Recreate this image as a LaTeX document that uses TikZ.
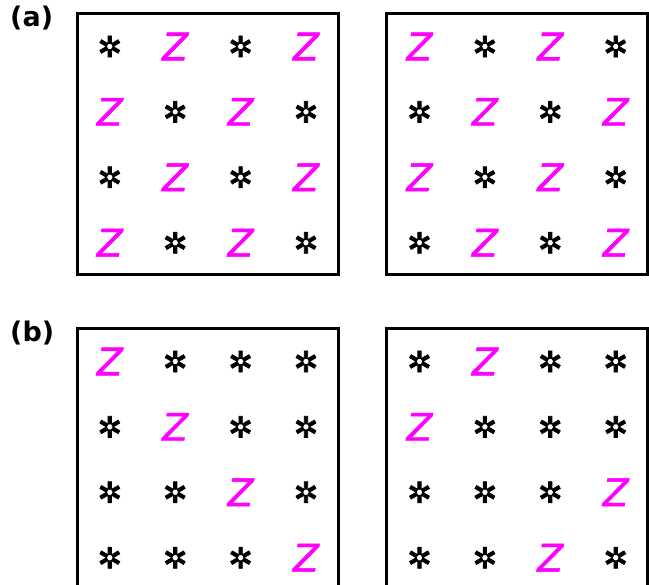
\documentclass[tikz,border=0pt]{standalone}
\usepackage{fontspec}
\usepackage{xcolor}
\usepackage{tikz}
\newfontfamily\dejavu{DejaVu Sans}
\newfontfamily\dejavuheavy[FakeBold=2.5]{DejaVu Sans}
\newfontfamily\dejavuslant[FakeBold=1.2]{DejaVu Sans}
\definecolor{zmagenta}{RGB}{255,0,255}
\newcommand{\zfont}{\dejavuslant\itshape\fontsize{38}{40}\selectfont}
\newcommand{\sfont}{\dejavuheavy\fontsize{29}{31}\selectfont}
\newcommand{\tagfont}{\dejavu\bfseries\fontsize{27}{29}\selectfont}

\begin{document}
\begin{tikzpicture}[
    x=1pt, y=-1pt,
    panel/.style={draw, line width=3pt, minimum width=261pt, minimum height=261pt, inner sep=0pt},
    zee/.style={text=zmagenta, font=\zfont, inner sep=0pt},
    star/.style={font=\sfont, inner sep=0pt},
    tag/.style={font=\tagfont, anchor=north west, inner sep=0pt}
]
    \useasboundingbox (0,0) rectangle (649,585);

    \node[tag] (taga) at (10,6) {(a)};
    \node[tag] (tagb) at (10,321) {(b)};

    \node[panel] (a1) at (207.5,144) {};
    \node[panel] (a2) at (517,144) {};
    \node[panel] (b1) at (207.5,459) {};
    \node[panel] (b2) at (517,459) {};

    % cells: s = star, z = Z
    \foreach \p/\cx/\cy/\cells in {
        a1/109.8/46.5/{s,z,s,z, z,s,z,s, s,z,s,z, z,s,z,s},
        a2/419.5/46.5/{z,s,z,s, s,z,s,z, z,s,z,s, s,z,s,z},
        b1/109.8/361.5/{z,s,s,s, s,z,s,s, s,s,z,s, s,s,s,z},
        b2/419.5/361.5/{s,z,s,s, z,s,s,s, s,s,s,z, s,s,z,s}} {
        \foreach \k [count=\n from 0] in \cells {
            \pgfmathtruncatemacro{\col}{mod(\n,4)}
            \pgfmathtruncatemacro{\row}{div(\n,4)}
            \if\k z
                \node[zee] (\p-\row-\col) at (\cx+65.4*\col, \cy+65.4*\row) {Z};
            \else
                \node[star] (\p-\row-\col) at (\cx+65.4*\col, \cy+65.4*\row) {✲};
            \fi
        }
    }
\end{tikzpicture}
\end{document}
